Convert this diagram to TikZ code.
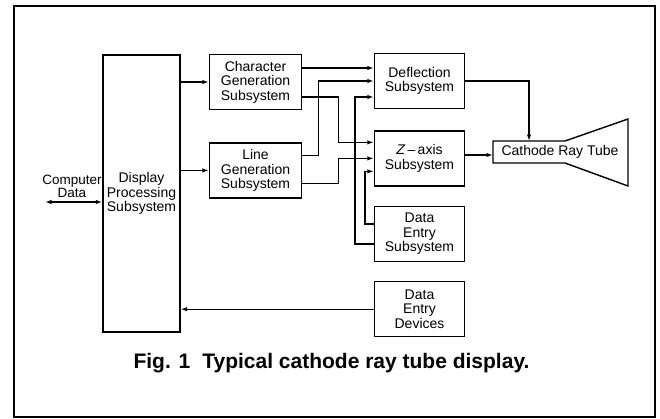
\documentclass[tikz,border=0pt]{standalone}
\usepackage{fontspec}
\setmainfont{Liberation Sans}
\usepackage{tikz}
\usetikzlibrary{arrows.meta, positioning}

\begin{document}
\begin{tikzpicture}[
    x=1pt, y=-1pt,
    box/.style={rectangle, draw, line width=1.4pt,
                minimum width=90pt, minimum height=55pt,
                align=center, inner sep=1pt,
                font=\fontsize{14}{14.5}\selectfont},
    lbl/.style={align=center, inner sep=0pt,
                font=\fontsize{13.5}{13}\selectfont},
    caption/.style={inner sep=0pt, font=\bfseries\fontsize{21}{21}\selectfont},
    arr/.style={-{Latex[length=6.5pt, width=4.5pt]}, line width=1.4pt},
    dblarr/.style={{Latex[length=6.5pt, width=4.5pt]}-{Latex[length=6.5pt, width=4.5pt]}, line width=1.4pt},
    frame/.style={draw, line width=2pt},
    node distance=20pt
]

\useasboundingbox (0,0) rectangle (660,418);
\draw[frame] (14,6) rectangle (655,417);

\node[box, minimum width=77pt, minimum height=277pt] (dps) at (141.5,193.5)
    {Display\\ Processing\\ Subsystem};

\node[box, minimum width=92pt] (chargen) at (255.5,82)
    {Character\\ Generation\\ Subsystem};

\node[box, minimum width=92pt, below=32pt of chargen] (linegen)
    {Line\\ Generation\\ Subsystem};

\node[box] (deflect) at (419.5,81)
    {Deflection\\ Subsystem};

\node[box, below=21pt of deflect] (zaxis)
    {\textit{Z}\,--\,axis\\ Subsystem};

\node[box, below=19pt of zaxis] (desub)
    {Data\\ Entry\\ Subsystem};

\node[box, below=19pt of desub] (dedev)
    {Data\\ Entry\\ Devices};

\node[lbl] (cdlabel) at (72,186) {Computer\\ Data};
\coordinate (cdata) at (45,202);

\draw[line width=1.4pt] (493,141) -- (565,141) -- (628,119) -- (628,186)
    -- (565,163) -- (493,163) -- cycle;
\coordinate (neckw) at (493,155);
\coordinate (neckn) at (529,141);
\node[box, draw=none, minimum width=0pt, minimum height=0pt] (crt) at (560,152)
    {Cathode Ray Tube};

\node[caption] (fig) at (331.5,363)
    {Fig. 1\hspace{12pt}Typical cathode ray tube display.};

\draw[dblarr] (cdata) -- (cdata -| dps.west);
\draw[arr] (dps.east |- chargen.west) -- (chargen.west);
\draw[arr] (dps.east |- linegen.west) -- (linegen.west);
\draw[arr] (dedev.west) -- (dedev.west -| dps.east);

\draw[arr] ([yshift=14pt]chargen.east) -- ([yshift=14pt]chargen.east -| deflect.west);
\draw[arr] ([yshift=-15pt]chargen.east) -- ++(36,0) |- ([yshift=16pt]zaxis.west);
\draw[arr] ([yshift=15pt]linegen.east) -- ++(16.5,0) |- (deflect.west);
\draw[arr] ([yshift=-13pt]linegen.east) -- ++(36,0) |- (zaxis.west);
\draw[arr] ([yshift=10pt]desub.west) -- ++(-9,0) |- ([yshift=-13pt]zaxis.west);
\draw[arr] ([yshift=-10pt]desub.west) -- ++(-19,0) |- ([yshift=-16pt]deflect.west);

\draw[arr] (zaxis.east |- neckw) -- (neckw);
\draw[arr] (deflect.east) -| (neckn);

\end{tikzpicture}
\end{document}
